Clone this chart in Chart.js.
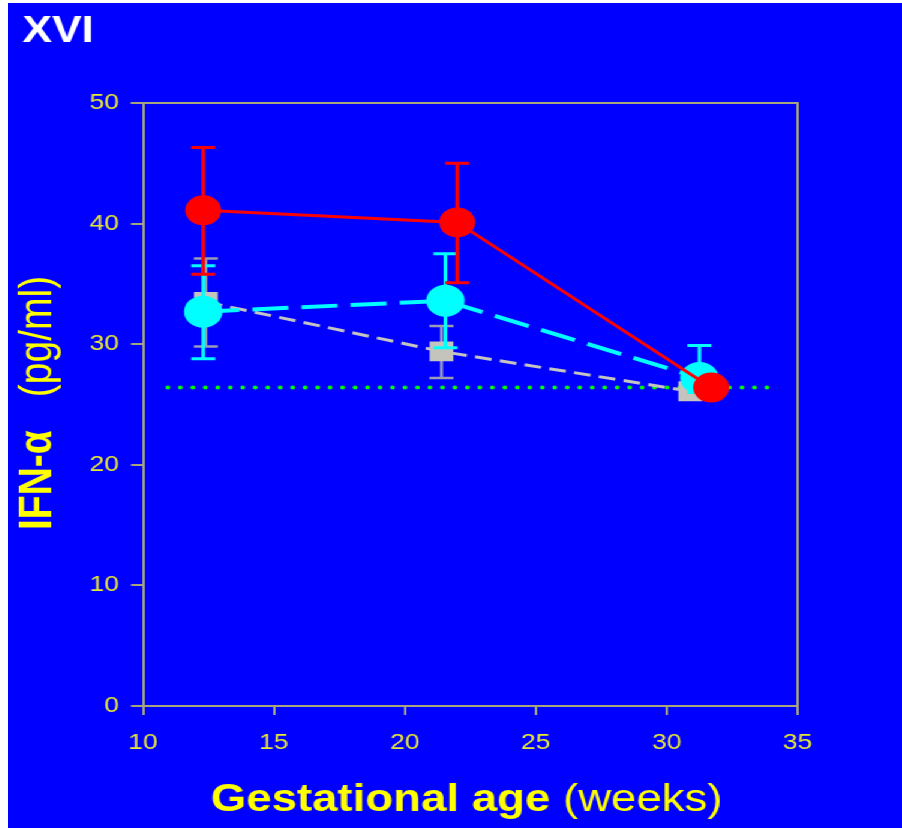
<!DOCTYPE html>
<html>
<head>
<meta charset="utf-8">
<script src="https://cdn.jsdelivr.net/npm/chart.js@4.4.1/dist/chart.umd.min.js"></script>
<style>
  html, body { margin: 0; padding: 0; background: #ffffff; }
  /* the original slide is stretched sideways by about 1.2 */
  #wrap {
    position: absolute; left: 8px; top: 3px;
    width: 745px; height: 825px;
    background: #0000ff;
    transform: scaleX(1.2); transform-origin: 0 0;
  }
</style>
</head>
<body>
<div id="wrap"><canvas id="myChart"></canvas></div>
<script>
// data (weeks, pg/ml, error up / down)
const redWeeks = [12.3, 22.0, 31.7];
const redIfn = [41.1, 40.1, 26.4];
const redErrUp = [5.2, 4.9, 0];
const redErrDown = [5.3, 5.0, 0];

const cyanWeeks = [12.3, 21.55, 31.25];
const cyanIfn = [32.7, 33.6, 27.2];
const cyanErrUp = [3.8, 3.9, 2.7];
const cyanErrDown = [3.9, 3.9, 1.2];

const grayWeeks = [12.4, 21.4, 30.9];
const grayIfn = [33.5, 29.4, 26.1];
const grayErrUp = [3.6, 2.1, 0];
const grayErrDown = [3.7, 2.2, 0];

const refWeeks = [10.95, 34.0];
const refIfn = [26.4, 26.4];

const xTicks = [10, 15, 20, 25, 30, 35];
const yTicks = [0, 10, 20, 30, 40, 50];

const axisColor = '#a8a47c';
const tickColor = '#e8e830';

function pts(xs, ys) {
   return xs.map((x, i) => ({ x: x, y: ys[i] }));
}

const errorBars = {
   id: 'errorBars',
   beforeDatasetDraw(chart, args) {
      const ds = chart.data.datasets[args.index];
      if (!ds.errUp) return;
      const c = chart.ctx;
      const xs = chart.scales.x, ys = chart.scales.y;
      c.save();
      c.strokeStyle = ds.errColor;
      c.lineWidth = ds.errWidth;
      ds.data.forEach((p, i) => {
         const up = ds.errUp[i], down = ds.errDown[i];
         if (!up && !down) return;
         const px = xs.getPixelForValue(p.x);
         const top = ys.getPixelForValue(p.y + up);
         const bot = ys.getPixelForValue(p.y - down);
         c.beginPath();
         c.moveTo(px, top); c.lineTo(px, bot);
         c.moveTo(px - 10, top); c.lineTo(px + 10, top);
         c.moveTo(px - 10, bot); c.lineTo(px + 10, bot);
         c.stroke();
      });
      c.restore();
   }
};

const decor = {
   id: 'decor',
   afterDraw(chart) {
      const c = chart.ctx;
      const a = chart.chartArea;
      c.save();
      // frame top and right
      c.strokeStyle = axisColor;
      c.lineWidth = 2;
      c.beginPath();
      c.moveTo(a.left - 10, a.top);
      c.lineTo(a.right, a.top);
      c.lineTo(a.right, a.bottom);
      c.stroke();

      // panel label
      c.fillStyle = '#ffffff';
      c.font = 'bold 37px "Liberation Sans", Arial, sans-serif';
      c.textBaseline = 'alphabetic';
      c.textAlign = 'left';
      c.fillText('XVI', 12, 39);

      // x title
      c.fillStyle = '#ffff00';
      let b = 'bold 38px "Liberation Sans", Arial, sans-serif';
      let n = '38px "Liberation Sans", Arial, sans-serif';
      c.font = b;
      const w1 = c.measureText('Gestational age ').width;
      c.font = n;
      const w2 = c.measureText('(weeks)').width;
      const cx = (a.left + a.right) / 2 - 3;
      const x0 = cx - (w1 + w2) / 2;
      c.font = b; c.fillText('Gestational age ', x0, 808);
      c.font = n; c.fillText('(weeks)', x0 + w1, 808);

      // y title
      b = 'bold 39px "Liberation Sans", Arial, sans-serif';
      n = '39px "Liberation Sans", Arial, sans-serif';
      c.translate(36, 527);
      c.rotate(-Math.PI / 2);
      c.font = b;
      const w3 = c.measureText('IFN-\u03b1').width;
      c.fillText('IFN-\u03b1', 0, 0);
      c.font = n;
      c.fillText('(pg/ml)', w3 + 33, 0);
      c.restore();
   }
};

const ctx = document.getElementById('myChart');
const myChart = new Chart(ctx, {
   type: 'line',
   data: {
      datasets: [{
         data: pts(redWeeks, redIfn),
         errUp: redErrUp, errDown: redErrDown,
         errColor: '#ff0000',
         errWidth: 3,
         borderColor: '#ff0000',
         backgroundColor: '#ff0000',
         borderWidth: 3,
         pointRadius: 15,
         pointBorderWidth: 0,
         pointStyle: 'circle'
      }, {
         data: pts(cyanWeeks, cyanIfn),
         errUp: cyanErrUp, errDown: cyanErrDown,
         errColor: '#00ffff',
         errWidth: 3,
         borderColor: '#00ffff',
         backgroundColor: '#00ffff',
         borderWidth: 4,
         borderDash: [30, 11],
         pointRadius: 16,
         pointBorderWidth: 0,
         pointStyle: 'circle'
      }, {
         data: pts(grayWeeks, grayIfn),
         errUp: grayErrUp, errDown: grayErrDown,
         errColor: '#9c9cb4',
         errWidth: 2.5,
         borderColor: '#c4c4c0',
         backgroundColor: '#c4c4bc',
         borderWidth: 3,
         borderDash: [14, 7],
         pointRadius: 14,
         pointBorderWidth: 0,
         pointStyle: 'rect'
      }, {
         data: pts(refWeeks, refIfn),
         borderColor: '#00ff00',
         borderWidth: 4,
         borderDash: [0, 10.4],
         borderCapStyle: 'round',
         pointRadius: 0
      }]
   },
   options: {
      responsive: true,
      maintainAspectRatio: false,
      animation: false,
      layout: { padding: { top: 100, right: 87, left: 0, bottom: 0 } },
      plugins: {
         legend: { display: false },
         title: { display: false },
         tooltip: { enabled: false }
      },
      scales: {
         x: {
            type: 'linear',
            min: 10, max: 35,
            afterFit(s) { s.height = 122; },
            afterBuildTicks(s) { s.ticks = xTicks.map(v => ({ value: v })); },
            border: { display: true, color: axisColor, width: 2 },
            grid: { display: true, drawOnChartArea: false, drawTicks: true, tickLength: 9, color: axisColor, lineWidth: 2 },
            ticks: { color: tickColor, padding: 15, maxRotation: 0, font: { family: '"Liberation Sans", Arial, sans-serif', size: 22 } }
         },
         y: {
            min: 0, max: 50,
            afterFit(s) { s.width = 112.5; },
            afterBuildTicks(s) { s.ticks = yTicks.map(v => ({ value: v })); },
            border: { display: true, color: axisColor, width: 2 },
            grid: { display: true, drawOnChartArea: false, drawTicks: true, tickLength: 10, color: axisColor, lineWidth: 2 },
            ticks: { color: tickColor, padding: 10, font: { family: '"Liberation Sans", Arial, sans-serif', size: 22 } }
         }
      }
   },
   plugins: [errorBars, decor]
});
</script>
</body>
</html>
